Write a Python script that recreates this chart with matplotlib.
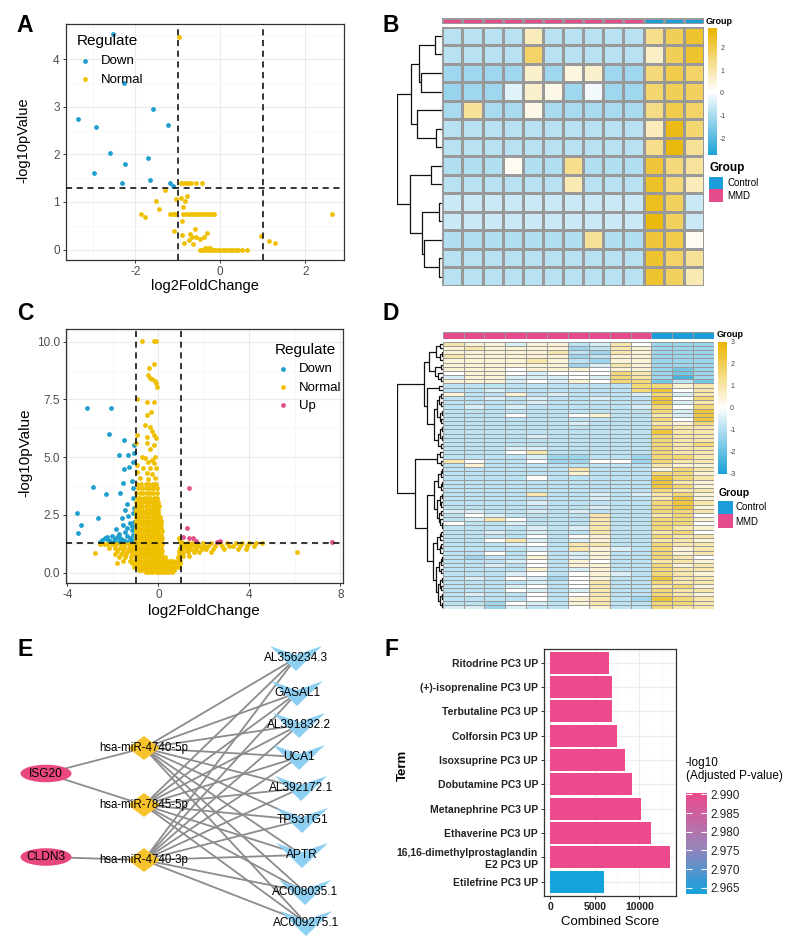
import numpy as np
import matplotlib
matplotlib.use('Agg')
import matplotlib.pyplot as plt
from matplotlib.colors import LinearSegmentedColormap, Normalize, ListedColormap
from matplotlib.patches import Ellipse, Polygon, Rectangle
from matplotlib.collections import LineCollection
import matplotlib.colorbar as mcolorbar

plt.rcParams['font.family'] = ['Liberation Sans', 'DejaVu Sans']
plt.rcParams['axes.unicode_minus'] = False

# ---------------------------------------------------------------- data
BLUE, YELLOW, PINK = '#1E9FCE', '#EFC000', '#E0508A'

# Panel A
A_down_x = [-2.52, -2.26, -1.59, -3.35, -2.93, -1.22, -2.60, -1.71, -2.24, -2.97, -1.65, -2.31, -1.18, -1.12]
A_down_y = [4.53, 3.50, 2.96, 2.74, 2.57, 2.61, 2.02, 1.93, 1.79, 1.60, 1.46, 1.39, 1.39, 1.34]
A_normal_rows = """
4.46: -0.97
1.39: -0.93 -0.87 -0.81 -0.74 -0.70 -0.56 -0.44
1.25: -1.30
1.13: -0.79
1.08: -0.93
1.06: -1.05
1.03: -1.52
1.01: -0.82
0.90: -0.87
0.85: -1.44
0.74: -1.87 -1.18 -1.12 -1.07 -0.87 -0.80 -0.74 -0.67 -0.60 -0.54 -0.47 -0.40 -0.33 -0.27 -0.20 -0.16 2.62
0.69: -1.76
0.61: -0.91
0.43: -0.60
0.38: -1.10
0.34: -0.32
0.33: -0.72
0.31: -0.90
0.29: 0.96
0.27: -0.66
0.26: -0.56 -0.38
0.22: -0.48
0.20: -0.73
0.18: 1.15
0.13: -0.85 1.29
0.11: -0.65
0.04: -0.36 -0.30 -0.25
0.00: -0.48 -0.42 -0.36 -0.30 -0.24 -0.18 -0.12 -0.06 0.00 0.06 0.12 0.18 0.24 0.30 0.36 0.42 0.50 0.62
"""

# Panel C
C_down_x = [-3.13, -2.07, -2.19, -1.49, -1.71, -1.32, -1.06, -1.06, -1.51, -1.29, -1.10, -2.88,
            -1.57, -1.17, -2.32, -1.68, -1.13, -1.39, -3.57, -2.67, -1.46, -3.42, -3.54, -1.10,
            -1.61, -1.32, -1.10, -1.86, -1.54, -1.25, -1.07, -1.75, -1.46, -1.17,
            -2.26, -2.04, -1.68, -1.39, -1.10, -2.48, -2.33, -1.90, -1.54, -1.25, -1.06,
            -2.55, -2.12, -1.71, -1.32, -1.17, -1.39, -1.06, -1.06, -1.20, -1.45, -1.62, -1.80, -1.95, -2.20]
C_down_y = [7.14, 7.14, 5.99, 5.74, 5.09, 5.09, 5.53, 5.17, 4.49, 4.56, 4.81, 3.69,
            3.90, 3.97, 3.39, 3.43, 3.25, 2.97, 2.60, 2.35, 2.71, 2.06, 1.70, 3.65,
            2.38, 2.47, 2.57, 1.89, 2.06, 2.14, 2.21, 1.66, 1.77, 1.85,
            1.56, 1.60, 1.52, 1.60, 1.63, 1.41, 1.49, 1.46, 1.41, 1.49, 1.41,
            1.34, 1.37, 1.34, 1.34, 2.02, 1.92, 1.99, 2.80, 1.38, 1.36, 1.44, 1.55, 1.38, 1.42]
C_up_x = [1.35, 1.25, 1.10, 1.36, 1.51, 1.65, 2.59, 2.70, 7.62]
C_up_y = [3.68, 1.92, 1.53, 1.49, 1.52, 1.37, 1.34, 1.37, 1.31]
C_normal_rows = """
10.04: -0.72 -0.20 -0.12
9.02: -0.19
8.85: -0.41
8.56: -0.46
8.44: -0.38
8.38: -0.26
8.30: -0.16
8.20: -0.09
8.05: -0.04
7.52: -0.96
7.40: -0.48 -0.20
6.94: -0.33
6.83: -0.52
6.39: -0.57
6.32: -0.38
6.13: -0.26
5.96: -0.96 -0.19
5.89: -0.48
5.82: -0.12
5.60: -1.00 -0.52
5.53: -0.20
5.35: -0.38
5.02: -0.70 -0.16
4.95: -0.58
4.88: -0.30
4.81: -0.45
4.73: -0.20
4.66: -0.96
4.55: -0.67
4.52: -0.38 -0.12
4.37: -0.93
4.30: -0.52
4.26: -0.26
4.08: -0.81 -0.16
4.05: -0.45
3.85: -0.95 -0.75 -0.55 -0.40 -0.25 -0.10
3.65: -0.90 -0.70 -0.55 -0.42 -0.30 -0.18 -0.05
3.45: -0.98 -0.82 -0.66 -0.50 -0.36 -0.22 -0.08
3.25: -0.95 -0.80 -0.65 -0.50 -0.35 -0.20 -0.05
3.05: -0.98 -0.84 -0.70 -0.56 -0.42 -0.28 -0.14 0.00
2.88: -1.00 -0.85 -0.70 -0.55 -0.40 -0.25 -0.10 0.02
2.72: -0.98 -0.84 -0.70 -0.56 -0.42 -0.28 -0.14 0.00
2.56: -1.00 -0.86 -0.72 -0.58 -0.44 -0.30 -0.16 -0.02
2.40: -0.98 -0.84 -0.70 -0.56 -0.42 -0.28 -0.14 0.00 0.08
2.25: -1.00 -0.86 -0.72 -0.58 -0.44 -0.30 -0.16 -0.02 0.10
2.10: -0.98 -0.84 -0.70 -0.56 -0.42 -0.28 -0.14 0.00 0.12
1.95: -1.00 -0.86 -0.72 -0.58 -0.44 -0.30 -0.16 -0.02 0.12
1.80: -0.98 -0.84 -0.70 -0.56 -0.42 -0.28 -0.14 0.00 0.14
1.65: -1.00 -0.86 -0.72 -0.58 -0.44 -0.30 -0.16 -0.02 0.12
1.50: -0.98 -0.84 -0.70 -0.56 -0.42 -0.28 -0.14 0.00 0.14 0.90
1.35: -1.00 -0.86 -0.72 -0.58 -0.44 -0.30 -0.16 -0.02 0.12 0.95
1.22: -2.55 -2.40 -2.25 -2.05 -1.85 -1.65 -1.45 -1.28 -1.12 -0.98 -0.84 -0.70 -0.56 -0.42 -0.28 -0.14 0.00 0.14 0.98
1.08: -2.15 -1.90 -1.70 -1.50 -1.30 -1.15 -1.00 -0.86 -0.72 -0.58 -0.44 -0.30 -0.16 -0.02 0.12 0.96
0.94: -1.80 -1.55 -1.35 -1.15 -0.98 -0.84 -0.70 -0.56 -0.42 -0.28 -0.14 0.00 0.14 0.92
0.87: -2.77
0.80: -1.90 -1.62 -1.40 -1.15 -1.00 -0.86 -0.72 -0.58 -0.44 -0.30 -0.16 -0.02 0.12 0.90 0.98
0.66: -1.75 -1.45 -1.18 -0.98 -0.84 -0.70 -0.56 -0.42 -0.28 -0.14 0.00 0.14 0.28 0.85 0.97
0.52: -1.55 -1.25 -1.05 -0.90 -0.76 -0.62 -0.48 -0.34 -0.20 -0.06 0.08 0.22 0.36 0.50 0.64 0.80 0.95
0.40: -1.83 -1.15 -1.00 -0.86 -0.72 -0.58 -0.44 -0.30 -0.16 -0.02 0.12 0.26 0.40 0.54 0.68 0.82 0.96
0.26: -1.05 -0.92 -0.78 -0.64 -0.50 -0.36 -0.22 -0.08 0.06 0.20 0.34 0.48 0.62 0.76 0.90
0.13: -0.85 -0.70 -0.56 -0.42 -0.28 -0.14 0.00 0.14 0.28 0.42 0.56 0.70
0.03: -0.55 -0.40 -0.26 -0.12 0.02 0.16 0.30 0.44 0.58
1.27: 1.10 1.30 1.50 1.70 1.95 2.30 2.70 3.00 3.40 3.70 4.00 4.30 4.55
1.15: 1.05 1.20 1.40 1.60 1.80 2.00 2.20 2.50 2.80 3.10 3.30 3.60 3.90 4.20
1.02: 1.05 1.25 1.45 1.65 1.90 2.10 2.40 2.90 3.50 3.85
0.88: 1.10 1.30 1.55 1.80 2.30
0.91: 6.08
0.72: 1.10 1.35
"""

# Panel B heatmap (rows x samples; 10 MMD then 3 Control)
B_groups = ['MMD'] * 10 + ['Control'] * 3
B_values = [
    [-0.8, -0.8, -0.8, -0.8, 0.8, -0.8, -0.8, -0.8, -0.8, -0.8, 1.3, 1.9, 2.3],
    [-0.8, -0.8, -0.8, -0.8, 1.7, -0.8, -0.8, -0.8, -0.8, -0.8, 0.7, 1.9, 2.3],
    [-1.1, -1.1, -1.1, -1.1, 0.6, -1.1, 0.4, 0.6, -1.1, -1.1, 1.5, 2.0, 1.7],
    [-1.2, -1.1, -1.1, -0.3, 0.6, 0.3, -1.1, -0.1, -1.1, -1.1, 1.6, 1.9, 1.8],
    [-1.0, 1.2, -1.0, -1.0, 0.3, -1.0, -1.0, -1.0, -1.0, -1.0, 1.4, 2.0, 1.7],
    [-0.8, -0.8, -0.8, -0.8, -0.8, -0.8, -0.8, -0.8, -0.8, -0.8, 0.8, 2.6, 1.6],
    [-0.8, -0.8, -0.8, -0.8, -0.8, -0.8, -0.8, -0.8, -0.8, -0.8, 1.3, 2.7, 1.2],
    [-0.9, -0.9, -0.9, 0.2, -0.9, -0.9, 1.3, -0.9, -0.9, -0.9, 2.2, 1.5, 1.1],
    [-0.8, -0.8, -0.8, -0.8, -0.8, -0.8, 0.9, -0.8, -0.8, -0.8, 2.4, 1.5, 0.8],
    [-0.6, -0.6, -0.6, -0.6, -0.6, -0.6, -0.6, -0.6, -0.6, -0.6, 2.5, 1.8, -0.6],
    [-0.6, -0.6, -0.6, -0.6, -0.6, -0.6, -0.6, -0.6, -0.6, -0.6, 2.7, 1.8, -0.6],
    [-0.9, -0.9, -0.9, -0.9, -0.9, -0.9, -0.9, 1.2, -0.9, -0.9, 2.2, 2.0, 0.2],
    [-0.8, -0.8, -0.8, -0.8, -0.8, -0.8, -0.8, -0.8, -0.8, -0.8, 2.3, 1.7, 1.2],
    [-0.8, -0.8, -0.8, -0.8, -0.8, -0.8, -0.8, -0.8, -0.8, -0.8, 2.3, 1.8, 0.9],
]
B_tree = "((((*,*)22,(*,*)65)69,(*,(*,*)20)77)95,((*,*)35,((*,*)10,(*,(*,*)10)55)60)97)135"

# Panel D heatmap, each char is a level code
D_groups = ['MMD'] * 10 + ['Control'] * 3
D_level = {'0': -2.4, '1': -1.8, '2': -1.3, '3': -0.9, '4': -0.5, '5': 0.0,
           '6': 0.5, '7': 1.0, '8': 1.6, '9': 2.3}
D_codes = [
    "7664663475222", "6766662376222", "6666673276222", "7666662366222", "6666763266222",
    "6666662476222", "6665666566212", "5665455587212", "4664445487202", "6664546588131",
    "3333333338867", "3343333338957", "6336343334847", "3343433433958", "3333433333947",
    "3434333334858", "3333333333849", "3335335633749", "3333333333859", "3333334333768",
    "3333333333877", "3333333333977", "3333433333877", "3333333333877", "3333333333878",
    "3334433333877", "3335733333877", "3333422332887", "7533522552877", "3633333333766",
    "3333337333687", "3333336333886", "3333533333987", "3333333333976", "3333333333986",
    "3333333333877", "3333733434786", "3333333433796", "3333433333897", "3333333433896",
    "4433434333887", "3543333733785", "3475333733886", "5334333733885", "3333434733876",
    "3343433733785", "3333535633877", "3357434633776", "3334537733877", "3333437643867",
    "3353534633867", "3233634633875", "3334536533776", "3343536633867", "3333634633877",
    "3334535643876", "3435425633977", "3333435733877", "3334535733786", "3335434733877",
    "3433535733876", "3333536732987", "3325436733887", "4424335633877",
]
D_T = "(((*,*)3,((*,*)1,*)3)7,((*,*)2,(*,(*,*)2)5)8)14"
D_M = "((*,*)4,((((*,*)2,(*,*)2)4,((*,*)1,(*,*)2)3)6,(((*,*)1,(*,*)1)3,(*,*)2)5)9)16"
D_B1 = "((*,*)3,(*,*)2)6"
D_B2 = "((((*,*)1,*)2,((*,*)1,*)2)5,(((*,*)1,(*,*)2)3,((*,*)2,(*,(*,*)1)3)4)6)9"
D_B3 = "((((*,*)2,*)3,((*,*)2,*)3)6,((((*,*)1,*)2,(*,*)2)4,(((*,*)1,(*,*)2)3,((*,*)1,(*,*)1)3)5)7)10"
D_tree = "((" + D_T + "," + D_M + ")19,(" + D_B1 + ",(" + D_B2 + "," + D_B3 + ")16)27)45"

# Panel E network (layout coordinates)
gene_names = ['ISG20', 'CLDN3']
gene_x = [46, 46]
gene_y = [773.5, 857]
mirna_names = ['hsa-miR-4740-5p', 'hsa-miR-7845-5p', 'hsa-miR-4740-3p']
mirna_x = [144, 144, 144]
mirna_y = [748, 805, 860]
target_names = ['AL356234.3', 'GASAL1', 'AL391832.2', 'UCA1', 'AL392172.1',
                'TP53TG1', 'APTR', 'AC008035.1', 'AC009275.1']
target_x = [296, 297, 299, 299, 301, 302, 302, 305, 306]
target_y = [658, 693, 725, 757, 788, 820, 855, 892, 923]
gene_mirna_edges = [(0, 0), (0, 1), (1, 2)]
mirna_target_edges = [(m, t) for m in range(3) for t in range(9)]

# Panel F
F_terms = ['Ritodrine PC3 UP', '(+)-isoprenaline PC3 UP', 'Terbutaline PC3 UP',
           'Colforsin PC3 UP', 'Isoxsuprine PC3 UP', 'Dobutamine PC3 UP',
           'Metanephrine PC3 UP', 'Ethaverine PC3 UP',
           '16,16-dimethylprostaglandin\nE2 PC3 UP', 'Etilefrine PC3 UP']
F_scores = [6640, 6900, 6900, 7460, 8430, 9220, 10150, 11300, 13440, 6000]
F_padj = [2.9903] * 9 + [2.9633]

# ---------------------------------------------------------------- helpers
W, H = 790, 943
fig = plt.figure(figsize=(7.9, 9.43), dpi=100)


def px_axes(l, t, r, b):
    return fig.add_axes([l / W, 1 - b / H, (r - l) / W, (b - t) / H])


def ftext(x, y, s, **kw):
    return fig.text(x / W, 1 - y / H, s, **kw)


def frect(x, y, w, h, color):
    fig.add_artist(Rectangle((x / W, 1 - (y + h) / H), w / W, h / H,
                             transform=fig.transFigure, fc=color, ec='none'))


def parse_rows(txt):
    xs, ys = [], []
    for line in txt.strip().splitlines():
        yv, xpart = line.split(':')
        for v in xpart.split():
            xs.append(float(v))
            ys.append(float(yv))
    return np.array(xs), np.array(ys)


def tree_segments(s):
    pos = [0]
    leaf = [0]
    segs = []

    def node():
        if s[pos[0]] == '*':
            pos[0] += 1
            y = leaf[0] + 0.5
            leaf[0] += 1
            return y, 0.0
        pos[0] += 1
        y1, h1 = node()
        pos[0] += 1  # ','
        y2, h2 = node()
        pos[0] += 1  # ')'
        j = pos[0]
        while j < len(s) and (s[j].isdigit() or s[j] == '.'):
            j += 1
        h = float(s[pos[0]:j])
        pos[0] = j
        segs.append([(h1, y1), (h, y1), (h, y2), (h2, y2)])
        return (y1 + y2) / 2, h

    node()
    return segs, leaf[0]


def style_bw(ax):
    for sp in ax.spines.values():
        sp.set_color('#333333')
        sp.set_linewidth(0.9)
    ax.set_facecolor('white')
    ax.grid(True, which='major', color='#EBEBEB', lw=0.8, zorder=0)
    ax.grid(True, which='minor', color='#F4F4F4', lw=0.5, zorder=0)
    ax.set_axisbelow(True)
    ax.tick_params(which='major', length=2.5, width=0.7, color='#333333',
                   labelsize=8.5, labelcolor='#4D4D4D', pad=2)
    ax.tick_params(which='minor', length=0)


hm_cmap = LinearSegmentedColormap.from_list('hm', ['#1AA1D6', '#FFFFFF', '#EAB500'])
grp_colors = {'Control': '#1C9CD8', 'MMD': '#E64B8E'}
PT = 12

# ---------------------------------------------------------------- Panel A
axA = px_axes(66, 24, 344, 260)
style_bw(axA)
ax_nx, ax_ny = parse_rows(A_normal_rows)
axA.scatter(A_down_x, A_down_y, s=PT, c=BLUE, linewidths=0, zorder=3, label='Down')
axA.scatter(ax_nx, ax_ny, s=PT, c=YELLOW, linewidths=0, zorder=3, label='Normal')
for v in (-1, 1):
    axA.axvline(v, color='black', ls=(0, (4, 3)), lw=1.1, zorder=4)
axA.axhline(1.301, color='black', ls=(0, (4, 3)), lw=1.1, zorder=4)
axA.set_xlim(-3.63, 2.91)
axA.set_ylim(-0.22, 4.74)
axA.set_xticks([-2, 0, 2])
axA.set_xticks([-3, -1, 1], minor=True)
axA.set_yticks([0, 1, 2, 3, 4])
axA.set_yticks([0.5, 1.5, 2.5, 3.5, 4.5], minor=True)
axA.legend(title='Regulate', loc='upper left', bbox_to_anchor=(0.015, 0.985),
           frameon=False, fontsize=9.5, title_fontsize=11, handletextpad=0.6,
           labelspacing=0.5, borderpad=0, handlelength=1.2, alignment='left')
ftext(23, 140, '-log10pValue', rotation=90, ha='center', va='center', fontsize=10.5)
ftext(205, 286, 'log2FoldChange', ha='center', va='center', fontsize=10.5)

# ---------------------------------------------------------------- Panel C
axC = px_axes(66, 329, 343, 583)
style_bw(axC)
cnx, cny = parse_rows(C_normal_rows)
axC.scatter(C_down_x, C_down_y, s=PT, c=BLUE, linewidths=0, zorder=3, label='Down')
axC.scatter(cnx, cny, s=PT, c=YELLOW, linewidths=0, zorder=3, label='Normal')
axC.scatter(C_up_x, C_up_y, s=PT, c=PINK, linewidths=0, zorder=3, label='Up')
for v in (-1, 1):
    axC.axvline(v, color='black', ls=(0, (4, 3)), lw=1.1, zorder=4)
axC.axhline(1.301, color='black', ls=(0, (4, 3)), lw=1.1, zorder=4)
axC.set_xlim(-4.06, 8.12)
axC.set_ylim(-0.45, 10.55)
axC.set_xticks([-4, 0, 4, 8])
axC.set_xticks([-2, 2, 6], minor=True)
axC.set_yticks([0, 2.5, 5, 7.5, 10])
axC.set_yticks([1.25, 3.75, 6.25, 8.75], minor=True)
axC.set_yticklabels(['0.0', '2.5', '5.0', '7.5', '10.0'])
axC.legend(title='Regulate', loc='upper left', bbox_to_anchor=(0.73, 0.97),
           frameon=False, fontsize=9.5, title_fontsize=11, handletextpad=0.6,
           labelspacing=0.45, borderpad=0, handlelength=1.2, alignment='left')
ftext(25, 453, '-log10pValue', rotation=90, ha='center', va='center', fontsize=11)
ftext(204, 611, 'log2FoldChange', ha='center', va='center', fontsize=11)


# ---------------------------------------------------------------- heatmaps
def draw_heatmap(mat, groups, tree, box, bar_box, dend_box, cbar_box, vmin, vmax,
                 cticks, lw):
    mat = np.asarray(mat, dtype=float)
    nrow, ncol = mat.shape
    norm = Normalize(vmin, vmax)
    ax = px_axes(*box)
    ax.pcolormesh(np.arange(ncol + 1), np.arange(nrow + 1), mat, cmap=hm_cmap, norm=norm,
                  edgecolors='#999999', linewidth=lw)
    ax.set_xlim(0, ncol)
    ax.set_ylim(nrow, 0)
    ax.axis('off')
    axb = px_axes(*bar_box)
    gcodes = np.array([[0 if g == 'Control' else 1 for g in groups]])
    axb.pcolormesh(np.arange(ncol + 1), [0, 1], gcodes,
                   cmap=ListedColormap([grp_colors['Control'], grp_colors['MMD']]),
                   vmin=0, vmax=1, edgecolors='#999999', linewidth=lw)
    axb.set_xlim(0, ncol)
    axb.axis('off')
    axd = px_axes(*dend_box)
    segs, nleaf = tree_segments(tree)
    axd.add_collection(LineCollection(segs, colors='#111111', linewidths=0.9))
    hmax = max(p[1][0] for p in segs)
    axd.set_xlim(hmax, 0)
    axd.set_ylim(nleaf, 0)
    axd.axis('off')
    cax = px_axes(*cbar_box)
    cb = mcolorbar.ColorbarBase(cax, cmap=hm_cmap, norm=norm, orientation='vertical')
    cb.outline.set_visible(False)
    cb.set_ticks(cticks)
    cb.set_ticklabels([str(t) for t in cticks])
    cax.tick_params(length=0, labelsize=5, labelcolor='#444444', pad=2.5)
    return ax


draw_heatmap(B_values, B_groups, B_tree, (442.3, 26.7, 704, 286), (442.3, 17.7, 704, 24.3),
             (397.3, 26.7, 442.3, 286), (708, 28.3, 716.7, 155), -2.73, 2.84,
             [-2, -1, 0, 1, 2], 0.9)
ftext(706, 21, 'Group', ha='left', va='center', fontsize=6.5, fontweight='bold')
ftext(709, 168, 'Group', ha='left', va='center', fontsize=8.5, fontweight='bold')
frect(709.3, 176.7, 14, 12.6, grp_colors['Control'])
frect(709.3, 189.3, 14, 12.6, grp_colors['MMD'])
ftext(727, 183, 'Control', ha='left', va='center', fontsize=7)
ftext(727, 196, 'MMD', ha='left', va='center', fontsize=7)

D_values = [[D_level[c] for c in row] for row in D_codes]
draw_heatmap(D_values, D_groups, D_tree, (442.7, 341.7, 714, 609), (442.7, 331.7, 714, 339),
             (397.3, 341.7, 442.7, 609), (718, 341.7, 726.7, 474), -3, 3,
             [-3, -2, -1, 0, 1, 2, 3], 0.7)
ftext(716.5, 334.5, 'Group', ha='left', va='center', fontsize=6.5, fontweight='bold')
ftext(718.5, 493, 'Group', ha='left', va='center', fontsize=7.5, fontweight='bold')
frect(718.3, 500.7, 15, 13.3, grp_colors['Control'])
frect(718.3, 514, 15, 14.3, grp_colors['MMD'])
ftext(735, 507.3, 'Control', ha='left', va='center', fontsize=7)
ftext(735, 521.7, 'MMD', ha='left', va='center', fontsize=7)

# ---------------------------------------------------------------- Panel E network
axE = px_axes(0, 630, 390, 943)
axE.set_xlim(0, 390)
axE.set_ylim(943, 630)
axE.axis('off')
EDGE = '#8C8C8C'
for g, m in gene_mirna_edges:
    axE.plot([gene_x[g], mirna_x[m]], [gene_y[g], mirna_y[m]], color=EDGE, lw=1.3, zorder=1)
for m, t in mirna_target_edges:
    axE.plot([mirna_x[m], target_x[t]], [mirna_y[m], target_y[t]], color=EDGE, lw=1.3, zorder=1)
for name, x, y in zip(gene_names, gene_x, gene_y):
    axE.add_patch(Ellipse((x, y), 51, 17.5, fc='#E9487F', ec='none', zorder=2))
    axE.text(x, y, name, ha='center', va='center', fontsize=8.6, zorder=5)
for name, x, y in zip(mirna_names, mirna_x, mirna_y):
    axE.add_patch(Polygon([(x - 16, y), (x, y - 12), (x + 16, y), (x, y + 12)],
                          closed=True, fc='#F8C22C', ec='none', zorder=2))
    axE.text(x, y, name, ha='center', va='center', fontsize=8.3, zorder=5)
for name, x, y in zip(target_names, target_x, target_y):
    axE.add_patch(Polygon([(x - 26, y - 12), (x, y - 3), (x + 26, y - 12), (x, y + 13)],
                          closed=True, fc='#8DCFF1', ec='none', zorder=2))
    axE.text(x, y, name, ha='center', va='center', fontsize=8.6, zorder=5)

# ---------------------------------------------------------------- Panel F
axF = px_axes(544.3, 649.3, 676, 896)
style_bw(axF)
f_cmap = LinearSegmentedColormap.from_list('f', ['#14A3DC', '#A081B8', '#EC4A8C'])
f_norm = Normalize(min(F_padj), max(F_padj))
n = len(F_terms)
ypos = np.arange(n)[::-1]
axF.barh(ypos, F_scores, height=0.9, color=f_cmap(f_norm(np.array(F_padj))), zorder=2)
axF.set_xlim(-672, 14112)
axF.set_ylim(-0.59, n - 0.45)
axF.set_yticks(ypos)
axF.set_yticklabels(F_terms, fontweight='bold', fontsize=7.5, color='#222222',
                    multialignment='right')
axF.set_xticks([0, 5000, 10000])
axF.set_xticks([2500, 7500, 12500], minor=True)
axF.tick_params(axis='x', labelsize=7.5)
for lab in axF.get_xticklabels():
    lab.set_fontweight('bold')
    lab.set_color('#222222')
for lab in axF.get_yticklabels():
    lab.set_color('#222222')
ftext(610, 922, 'Combined Score', ha='center', va='center', fontsize=9.5)
ftext(403, 765, 'Term', rotation=90, ha='center', va='center', fontsize=9.5, fontweight='bold')
ftext(686, 769.7, '-log10\n(Adjusted P-value)', ha='left', va='center', fontsize=8.5,
      linespacing=1.15)
caxF = px_axes(686, 793.3, 706.7, 894)
cbF = mcolorbar.ColorbarBase(caxF, cmap=f_cmap, norm=f_norm, orientation='vertical')
cbF.outline.set_visible(False)
cbF.set_ticks([2.965, 2.970, 2.975, 2.980, 2.985, 2.990])
cbF.set_ticklabels(['2.965', '2.970', '2.975', '2.980', '2.985', '2.990'])
caxF.tick_params(direction='in', color='white', length=4, width=0.8, left=True, right=True,
                 labelsize=8.5, labelcolor='#222222', pad=3)

# ---------------------------------------------------------------- panel letters
for letter, x, y in [('A', 25, 25), ('B', 391, 25), ('C', 25, 314), ('D', 391, 314),
                     ('E', 25, 650), ('F', 391, 650)]:
    ftext(x, y, letter, ha='center', va='center', fontsize=16.5, fontweight='bold')

fig.savefig('out.png', dpi=100)
